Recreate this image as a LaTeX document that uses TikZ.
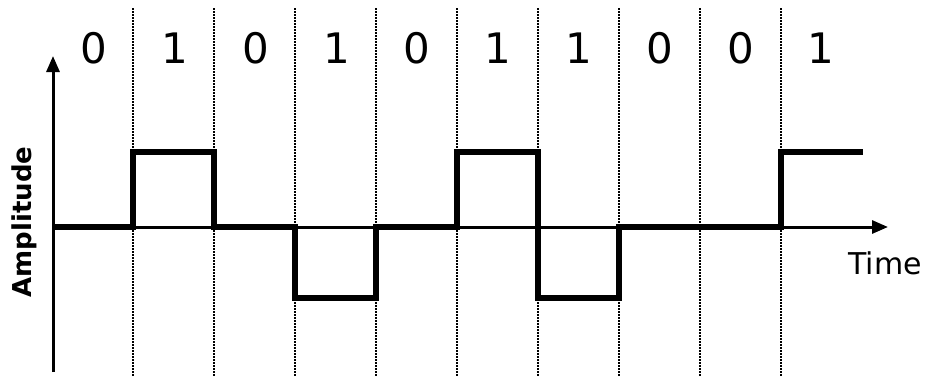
\documentclass[tikz,border=0pt]{standalone}
\usepackage{fontspec}
\setmainfont{DejaVu Sans}
\usetikzlibrary{arrows.meta}

\begin{document}
\begin{tikzpicture}[x=0.5pt, y=-0.5pt,
    bitsep/.style={black, line width=1pt, dash pattern=on 0.9pt off 0.6pt},
    axisline/.style={black, line width=1.5pt, -{Triangle[length=8pt, width=6.5pt]}},
    signal/.style={black, line width=2.9pt, line join=miter},
    bitlabel/.style={font=\fontsize{21}{21}\selectfont, inner sep=0pt}]
  \useasboundingbox (0,0) rectangle (928,376);
  % bit boundaries
  \foreach \i in {0,...,8}
    \draw[bitsep] (133+81*\i,8) -- (133+81*\i,376);
  % the bits above the cells
  \foreach \b [count=\i from 0] in {0,1,0,1,0,1,1,0,0,1}
    \node[bitlabel] (bit\i) at (94+80.8*\i,48) {\b};
  % axes
  \coordinate (origin) at (53,227);
  \coordinate (ybot) at (53,372);
  \coordinate (ytop) at (53,56);
  \coordinate (xend) at (888,227);
  \draw[axisline] (ybot) -- (ytop);
  \draw[axisline] (origin) -- (xend);
  \node[rotate=90, font=\fontsize{13}{13}\selectfont\bfseries] (amp) at (24,222) {Amplitude};
  \node[font=\fontsize{15}{15}\selectfont] (time) at (885,263) {Time};
  % AMI line code
  \draw[signal] (origin) -- (133,227) -- (133,152) -- (214,152) -- (214,227)
    -- (295,227) -- (295,298) -- (376,298) -- (376,227) -- (457,227)
    -- (457,152) -- (538,152) -- (538,298) -- (619,298) -- (619,227)
    -- (781,227) -- (781,152) -- (863,152);
\end{tikzpicture}
\end{document}
